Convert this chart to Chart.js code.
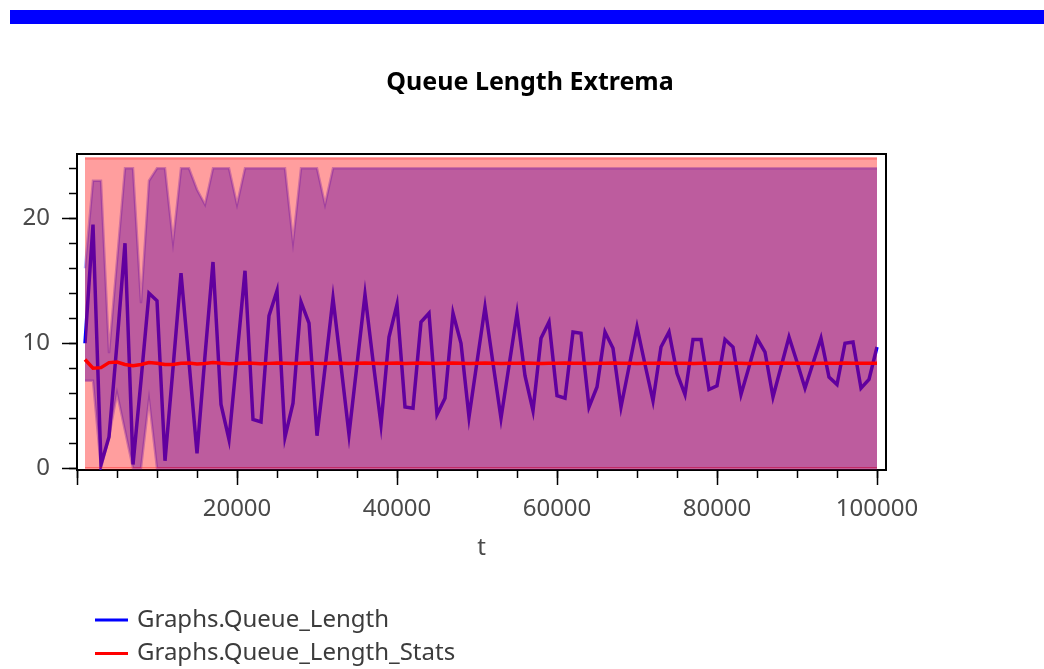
<!DOCTYPE html>
<html><head><meta charset="utf-8">
<script src="https://cdn.jsdelivr.net/npm/chart.js@4/dist/chart.umd.min.js"></script>
<style>
html,body{margin:0;padding:0;background:#fff;overflow:hidden;width:1044px;height:669px;}
#bar{position:absolute;left:10px;top:10px;width:1034px;height:14px;background:#0000ff;}
#wrap{position:absolute;left:0;top:0;width:1044px;height:669px;}
</style></head><body>
<div id="bar"></div>
<div id="wrap"><canvas id="c" width="1044" height="669"></canvas></div>
<script>
const timeValues = [1000,2000,3000,4000,5000,6000,7000,8000,9000,10000,
11000,12000,13000,14000,15000,16000,17000,18000,19000,20000,
21000,22000,23000,24000,25000,26000,27000,28000,29000,30000,
31000,32000,33000,34000,35000,36000,37000,38000,39000,40000,
41000,42000,43000,44000,45000,46000,47000,48000,49000,50000,
51000,52000,53000,54000,55000,56000,57000,58000,59000,60000,
61000,62000,63000,64000,65000,66000,67000,68000,69000,70000,
71000,72000,73000,74000,75000,76000,77000,78000,79000,80000,
81000,82000,83000,84000,85000,86000,87000,88000,89000,90000,
91000,92000,93000,94000,95000,96000,97000,98000,99000,100000];

const queueLength = [10.0,19.5,0.3,2.5,10.0,18.0,0.3,7.0,14.0,13.4,
0.6,8.0,15.6,8.5,1.2,9.0,16.5,5.1,2.3,9.0,
15.8,3.9,3.7,12.2,14.2,2.5,5.2,13.3,11.6,2.6,
8.0,13.6,8.2,2.7,8.3,13.9,8.6,3.5,10.5,13.1,
4.9,4.8,11.7,12.4,4.3,5.6,12.4,10.0,4.1,8.5,
12.9,8.4,4.0,8.2,12.4,7.4,4.6,10.4,11.7,5.8,
5.6,10.9,10.8,4.9,6.5,10.9,9.6,4.9,8.1,11.3,
8.3,5.4,9.7,10.9,7.6,5.9,10.3,10.3,6.3,6.6,
10.3,9.7,5.9,8.1,10.4,9.3,5.7,8.1,10.5,8.5,
6.4,8.4,10.4,7.3,6.7,10.0,10.1,6.4,7.1,9.7];

const queueLengthMax = [16,23,23,9.2,16.6,24,24,13.2,23,24,
24,18.1,24,24,22.3,21.1,24,24,24,21.1,
24,24,24,24,24,24,18.1,24,24,24,
21.1,24,24,24,24,24,24,24,24,24,
24,24,24,24,24,24,24,24,24,24,
24,24,24,24,24,24,24,24,24,24,
24,24,24,24,24,24,24,24,24,24,
24,24,24,24,24,24,24,24,24,24,
24,24,24,24,24,24,24,24,24,24,
24,24,24,24,24,24,24,24,24,24];

const queueLengthMin = [7,7,0,2.5,6,3,0,0,5.5,0,
0,0,0,0,0,0,0,0,0,0,
0,0,0,0,0,0,0,0,0,0,
0,0,0,0,0,0,0,0,0,0,
0,0,0,0,0,0,0,0,0,0,
0,0,0,0,0,0,0,0,0,0,
0,0,0,0,0,0,0,0,0,0,
0,0,0,0,0,0,0,0,0,0,
0,0,0,0,0,0,0,0,0,0,
0,0,0,0,0,0,0,0,0,0];

const statsMean = [8.7,8.0,8.05,8.45,8.5,8.3,8.2,8.3,8.45,8.4,
8.3,8.3,8.4,8.42,8.35,8.38,8.45,8.4,8.36,8.38,
8.42,8.4,8.37,8.39,8.42,8.4,8.38,8.4,8.41,8.39,
8.38,8.41,8.4,8.38,8.4,8.42,8.4,8.39,8.4,8.41,
8.39,8.4,8.41,8.4,8.39,8.4,8.41,8.4,8.39,8.4,
8.41,8.4,8.39,8.4,8.4,8.41,8.4,8.39,8.4,8.4,
8.41,8.4,8.4,8.39,8.4,8.4,8.41,8.4,8.4,8.39,
8.4,8.4,8.41,8.4,8.4,8.4,8.39,8.4,8.4,8.41,
8.4,8.4,8.4,8.39,8.4,8.4,8.4,8.41,8.4,8.4,
8.4,8.39,8.4,8.4,8.4,8.41,8.4,8.4,8.4,8.4];

const statsMax = [24.8,24.8,24.8,24.8,24.8,24.8,24.8,24.8,24.8,24.8,
24.8,24.8,24.8,24.8,24.8,24.8,24.8,24.8,24.8,24.8,
24.8,24.8,24.8,24.8,24.8,24.8,24.8,24.8,24.8,24.8,
24.8,24.8,24.8,24.8,24.8,24.8,24.8,24.8,24.8,24.8,
24.8,24.8,24.8,24.8,24.8,24.8,24.8,24.8,24.8,24.8,
24.8,24.8,24.8,24.8,24.8,24.8,24.8,24.8,24.8,24.8,
24.8,24.8,24.8,24.8,24.8,24.8,24.8,24.8,24.8,24.8,
24.8,24.8,24.8,24.8,24.8,24.8,24.8,24.8,24.8,24.8,
24.8,24.8,24.8,24.8,24.8,24.8,24.8,24.8,24.8,24.8,
24.8,24.8,24.8,24.8,24.8,24.8,24.8,24.8,24.8,24.8];

const statsMin = [0,0,0,0,0,0,0,0,0,0,
0,0,0,0,0,0,0,0,0,0,
0,0,0,0,0,0,0,0,0,0,
0,0,0,0,0,0,0,0,0,0,
0,0,0,0,0,0,0,0,0,0,
0,0,0,0,0,0,0,0,0,0,
0,0,0,0,0,0,0,0,0,0,
0,0,0,0,0,0,0,0,0,0,
0,0,0,0,0,0,0,0,0,0,
0,0,0,0,0,0,0,0,0,0];

const xMajorTicks = [0, 20000, 40000, 60000, 80000, 100000];
const xMinorTicks = [0,5000,10000,15000,20000,25000,30000,35000,40000,45000,50000,
55000,60000,65000,70000,75000,80000,85000,90000,95000,100000];
const yMajorTicks = [0, 10, 20];
const yMinorTicks = [0,2,4,6,8,10,12,14,16,18,20,22,24];

const chartTitle = 'Queue Length Extrema';
const xAxisTitle = 't';
const seriesNames = ['Graphs.Queue_Length', 'Graphs.Queue_Length_Stats'];
const xRange = [0, 101125];
const yRange = [-0.14, 25.14];

function pts(ys) { return timeValues.map((t, i) => ({x: t, y: ys[i]})); }
function setTicks(list) { return s => { s.ticks = list.map(v => ({value: v})); }; }

const FONT = 'Noto Sans';
const TICK_COLOR = '#4a4a4a';

const legendPlugin = {
  id: 'stackedLegend',
  afterDraw(chart) {
    const ctx = chart.ctx;
    const xs = chart.scales.x;
    const left = chart.chartArea.left;
    const items = chart.data.datasets.filter(d => d.legendRank !== undefined)
      .sort((a, b) => a.legendRank - b.legendRank);
    ctx.save();
    ctx.font = '24px "' + FONT + '"';
    ctx.textBaseline = 'middle';
    ctx.textAlign = 'left';
    items.forEach((d, i) => {
      const y = xs.bottom + 50 + i * 33.5;
      ctx.strokeStyle = d.legendColor;
      ctx.lineWidth = 3;
      ctx.beginPath();
      ctx.moveTo(left + 18, y);
      ctx.lineTo(left + 51, y);
      ctx.stroke();
      ctx.fillStyle = '#3c3c3c';
      ctx.fillText(d.label, left + 60, y);
    });
    ctx.restore();
  }
};

const hidden = {display: false};

new Chart(document.getElementById('c'), {
  type: 'line',
  data: {
    datasets: [
      {label: seriesNames[1], legendRank: 1, legendColor: '#ff0000', data: pts(statsMean),
       borderColor: '#ff0000', borderWidth: 3.5, fill: false, order: 0},
      {label: 'statsMax', data: pts(statsMax), borderColor: 'rgba(255,0,0,0.35)', borderWidth: 2.5,
       backgroundColor: 'rgba(255,0,0,0.38)', fill: '+1', order: 1},
      {label: 'statsMin', data: pts(statsMin), borderColor: 'rgba(255,0,0,0.35)', borderWidth: 2.5,
       fill: false, order: 2},
      {label: seriesNames[0], legendRank: 0, legendColor: '#0000ff', data: pts(queueLength),
       borderColor: '#0000ff', borderWidth: 3.5, fill: false, order: 3},
      {label: 'queueMax', data: pts(queueLengthMax), borderColor: 'rgba(0,0,255,0.3)', borderWidth: 2.5,
       backgroundColor: 'rgba(0,0,255,0.42)', fill: '+1', order: 4},
      {label: 'queueMin', data: pts(queueLengthMin), borderColor: 'rgba(0,0,255,0.3)', borderWidth: 2.5,
       fill: false, order: 5}
    ]
  },
  options: {
    responsive: false,
    animation: false,
    devicePixelRatio: 1,
    layout: {padding: {left: 16, right: 0, top: 0, bottom: 99}},
    elements: {point: {radius: 0, hoverRadius: 0}, line: {tension: 0}},
    plugins: {
      title: {display: true, text: chartTitle, color: '#000',
        font: {family: FONT, size: 25, weight: 'bold'}, padding: {top: 68, bottom: 56}},
      legend: {display: false},
      tooltip: {enabled: false},
      filler: {propagate: false}
    },
    scales: {
      x: {type: 'linear', position: 'bottom', min: xRange[0], max: xRange[1], weight: 0,
        afterBuildTicks: setTicks(xMajorTicks),
        ticks: {autoSkip: false, maxRotation: 0, minRotation: 0,
          padding: 9.6, color: TICK_COLOR, font: {family: FONT, size: 24},
          callback: v => v === 0 ? '' : String(v)},
        grid: {drawOnChartArea: false, tickLength: 15, tickWidth: 1.5, tickColor: '#000'},
        border: {display: true, color: '#000', width: 2},
        title: {display: true, text: xAxisTitle, color: TICK_COLOR, font: {family: FONT, size: 24},
          padding: {top: 0, bottom: 7.6}},
        afterFit: s => { s.height = 100; }
      },
      xMinor: {type: 'linear', axis: 'x', position: 'bottom', min: xRange[0], max: xRange[1], weight: -1,
        afterBuildTicks: setTicks(xMinorTicks),
        ticks: {display: false, autoSkip: false},
        grid: {drawOnChartArea: false, tickLength: 8, tickWidth: 1.5, tickColor: '#000'},
        border: hidden,
        afterFit: s => { s.height = 0; }
      },
      xTop: {type: 'linear', axis: 'x', position: 'top', min: xRange[0], max: xRange[1],
        ticks: hidden, grid: {drawOnChartArea: false, drawTicks: false},
        border: {display: true, color: '#000', width: 2},
        afterFit: s => { s.height = 0; }
      },
      y: {type: 'linear', position: 'left', min: yRange[0], max: yRange[1], weight: 0,
        afterBuildTicks: setTicks(yMajorTicks),
        ticks: {autoSkip: false, padding: 12,
          color: TICK_COLOR, font: {family: FONT, size: 24}, callback: v => String(v)},
        grid: {drawOnChartArea: false, tickLength: 15, tickWidth: 1.5, tickColor: '#000'},
        border: {display: true, color: '#000', width: 2},
        afterFit: s => { s.width = 61; }
      },
      yMinor: {type: 'linear', axis: 'y', position: 'left', min: yRange[0], max: yRange[1], weight: -1,
        afterBuildTicks: setTicks(yMinorTicks),
        ticks: {display: false, autoSkip: false},
        grid: {drawOnChartArea: false, tickLength: 8, tickWidth: 1.5, tickColor: '#000'},
        border: hidden,
        afterFit: s => { s.width = 0; }
      },
      yRight: {type: 'linear', axis: 'y', position: 'right', min: yRange[0], max: yRange[1],
        ticks: hidden, grid: {drawOnChartArea: false, drawTicks: false},
        border: {display: true, color: '#000', width: 2},
        afterFit: s => { s.width = 158; }
      }
    }
  },
  plugins: [legendPlugin]
});
</script>
</body></html>
